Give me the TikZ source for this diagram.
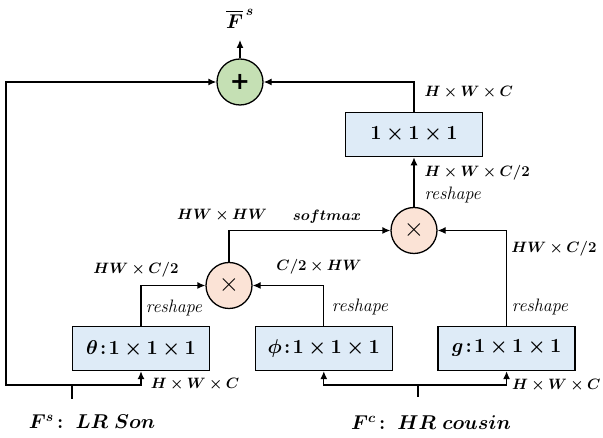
\documentclass[tikz,border=0pt]{standalone}
\usepackage{fix-cm}
\usepackage{amsmath}
\usepackage{bm}
\usepackage{fontspec}
\newfontfamily\opfont{DejaVu Sans}
\usetikzlibrary{positioning, arrows.meta}
\definecolor{convblue}{HTML}{DEEBF7}
\definecolor{addgreen}{HTML}{C5E0B4}
\definecolor{mulpeach}{HTML}{FBE3D6}
\tikzset{
>={Latex[length=8pt, width=7pt]}, % filled arrow heads
conv/.style={draw, fill=convblue, minimum width=137pt, minimum height=44pt, font=\fontsize{20}{22}\selectfont}, % 1x1x1 convolutions
addop/.style={circle, draw, fill=addgreen, minimum size=46pt, inner sep=0pt, font=\opfont\fontsize{24}{26}\selectfont\bfseries},
mulop/.style={circle, draw, fill=mulpeach, minimum size=46pt, inner sep=0pt, font=\fontsize{26}{28}\selectfont},
dim/.style={inner sep=0pt, font=\fontsize{15}{17}\selectfont}, % tensor sizes
note/.style={inner sep=0pt, font=\fontsize{18}{20}\selectfont\itshape}, % reshape notes
io/.style={inner sep=0pt, font=\fontsize{20}{22}\selectfont}, % inputs and output
}

\begin{document}
\begin{tikzpicture}[x=1pt, y=1pt, line width=1.3pt]
    \useasboundingbox (0,0) rectangle (603,438);

    % conv branches
    \node[conv] (theta) at (141,89.5) {$\bm{\theta\!:\!1\times1\times1}$};
    \node[conv, right=44.5pt of theta] (phi) {$\bm{\phi\!:\!1\times1\times1}$};
    \node[conv, right=44.5pt of phi] (g) {$\bm{g\!:\!1\times1\times1}$};

    % products, output conv and sum
    \node[mulop] (lmul) at (229,152.5) {$\times$};
    \node[mulop] (rmul) at (414,207.5) {$\times$};
    \node[conv, above=49.5pt of rmul] (proj) {$\bm{1\times1\times1}$};
    \node[addop] (sum) at (240,356) {+};

    % inputs and output
    \coordinate (sonjoin) at (72,53);
    \coordinate (sonfoot) at (72,39);
    \coordinate (skip) at (6,53);
    \coordinate (cousinjoin) at (418,53);
    \coordinate (cousinfoot) at (418,41);
    \coordinate (outtip) at (240,398);
    \node[io] (son) at (92,16) {$\bm{F^{s}}$\,\textbf{:}\ \ $\bm{LR\ Son}$};
    \node[io] (cousin) at (431,15) {$\bm{F^{c}}$\,\textbf{:}\ \ $\bm{HR\ cousin}$};
    \node[io] (fbar) at (240,419) {$\bm{\overline{F}^{\,s}}$};

    \draw (sonfoot) -- (sonjoin);
    \draw[->] (sonjoin) -| (theta.south);
    \draw[->] (sonjoin) -- (skip) |- (sum.west);
    \draw (cousinfoot) -- (cousinjoin);
    \draw[->] (cousinjoin) -| (phi.south);
    \draw[->] (cousinjoin) -| (g.south);
    \draw[->] (theta.north) |- (lmul.west);
    \draw[->] (phi.north) |- (lmul.east);
    \draw[->] (lmul.north) |- (rmul.west);
    \draw[->] (g.north) |- (rmul.east);
    \draw[->] (rmul.north) -- (proj.south);
    \draw[->] (proj.north) |- (sum.east);
    \draw[->] (sum.north) -- (outtip);

    % sizes along the arrows
    \node[dim, anchor=west] (d1) at (424,346) {$\bm{H\times W\times C}$};
    \node[dim, anchor=west] (d2) at (424,265) {$\bm{H\times W\times C/2}$};
    \node[note, anchor=west] (n1) at (424,243) {reshape};
    \node[dim] (d3) at (222,223) {$\bm{HW\times HW}$};
    \node[dim] (sm) at (327,221) {$\bm{softmax}$};
    \node[dim] (d4) at (136,168) {$\bm{HW\times C/2}$};
    \node[dim] (d5) at (319,171) {$\bm{C/2\times HW}$};
    \node[dim] (d6) at (554,189) {$\bm{HW\times C/2}$};
    \node[note] (n2) at (174,130) {reshape};
    \node[note] (n3) at (360,131) {reshape};
    \node[note] (n4) at (540,131) {reshape};
    \node[dim] (d7) at (195,54) {$\bm{H\times W\times C}$};
    \node[dim, anchor=east] (d8) at (601,53) {$\bm{H\times W\times C}$};
\end{tikzpicture}
\end{document}
